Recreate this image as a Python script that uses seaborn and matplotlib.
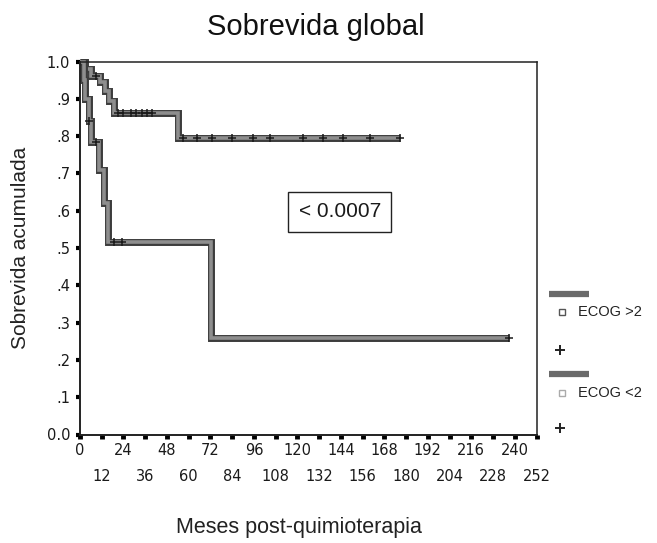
import numpy as np
import pandas as pd
import matplotlib
matplotlib.use("Agg")
import matplotlib.pyplot as plt
from matplotlib.lines import Line2D
import seaborn as sns

# ── Data ────────────────────────────────────────────────────────────────────
# Kaplan-Meier steps (months, cumulative survival); last point = end of follow-up
ecog_hi_times = [0, 2, 3, 5, 6, 10.5, 13.5, 15.5, 72.5, 237]
ecog_hi_surv = [1.0, 0.95, 0.90, 0.84, 0.785, 0.71, 0.62, 0.515, 0.258, 0.258]
ecog_hi_censored = [5, 9, 19, 23, 237]

ecog_lo_times = [0, 3, 6, 11, 14, 16, 18.5, 54, 176.5]
ecog_lo_surv = [1.0, 0.98, 0.96, 0.945, 0.92, 0.895, 0.862, 0.796, 0.796]
ecog_lo_censored = [9, 21, 24, 28, 31, 34, 37, 40, 57, 64.5, 73, 84,
                    95.5, 105, 123, 134, 145, 160, 176.5]

group_labels = ["ECOG >2", "ECOG <2"]
p_value_text = "< 0.0007"
p_value_pos = (143.4, 0.597)

x_major = list(range(0, 241, 24))
x_minor = list(range(12, 253, 24))
y_ticks = [0.0, 0.1, 0.2, 0.3, 0.4, 0.5, 0.6, 0.7, 0.8, 0.9, 1.0]
y_tick_labels = ["0.0", ".1", ".2", ".3", ".4", ".5", ".6", ".7", ".8", ".9", "1.0"]

BAND_DARK = "#3c3c3c"
BAND_GRAY = "#8e8e8e"


def step_value(times, surv, t):
    idx = np.searchsorted(times, t, side="right") - 1
    return surv[idx]


def draw_km(ax, times, surv, censored):
    df = pd.DataFrame({"t": times, "s": surv})
    for color, lw in [(BAND_DARK, 5.0), (BAND_GRAY, 2.6)]:
        sns.lineplot(data=df, x="t", y="s", ax=ax, estimator=None, sort=False,
                     drawstyle="steps-post", color=color, linewidth=lw,
                     solid_joinstyle="miter", solid_capstyle="butt",
                     clip_on=False)
    cens = pd.DataFrame({"t": censored,
                         "s": [step_value(times, surv, c) for c in censored]})
    sns.scatterplot(data=cens, x="t", y="s", ax=ax, marker="+", s=30,
                    color="#1a1a1a", linewidth=1.1, zorder=5, clip_on=False)


sns.set_style("white")
plt.rcParams["font.family"] = ["Liberation Sans", "DejaVu Sans"]

W, H = 657, 543
fig = plt.figure(figsize=(W / 100, H / 100), dpi=100)
ax = fig.add_axes([80 / W, 1 - 434.5 / H, (536.5 - 80) / W, (434.5 - 61.5) / H])

draw_km(ax, ecog_lo_times, ecog_lo_surv, ecog_lo_censored)
draw_km(ax, ecog_hi_times, ecog_hi_surv, ecog_hi_censored)

ax.set_xlim(0, 252)
ax.set_ylim(0, 1.0)
ax.set_xlabel("")
ax.set_ylabel("")

ax.set_xticks(x_major)
ax.set_xticklabels([str(v) for v in x_major])
ax.set_xticks(x_minor, minor=True)
ax.set_xticklabels([str(v) for v in x_minor], minor=True)
ax.set_yticks(y_ticks)
ax.set_yticklabels(y_tick_labels)

ax.tick_params(axis="both", which="both", labelfontfamily="DejaVu Sans",
               labelsize=10.5, labelcolor="#1a1a1a")
ax.tick_params(axis="x", which="both", direction="out", length=3, width=3.5,
               color="black", bottom=True)
ax.tick_params(axis="x", which="major", pad=3)
ax.tick_params(axis="x", which="minor", pad=22)
ax.tick_params(axis="y", which="major", direction="out", length=3, width=3,
               color="black", pad=4, left=True)

for side, sp in ax.spines.items():
    sp.set_visible(True)
    sp.set_color("#222222")
    sp.set_linewidth(1.4 if side in ("left", "bottom") else 1.1)

ax.text(*p_value_pos, p_value_text, ha="center", va="center", fontsize=15,
        color="#1a1a1a",
        bbox=dict(boxstyle="square,pad=0.5", fc="white", ec="#222222", lw=1.0))

# titles / axis labels
fig.text(316 / W, 1 - 27 / H, "Sobrevida global", ha="center", va="center",
         fontsize=21, color="#111111")
fig.text(299 / W, 1 - 528 / H, "Meses post-quimioterapia", ha="center",
         va="center", fontsize=15.5, color="#222222")
fig.text(21 / W, 1 - 248 / H, "Sobrevida acumulada", ha="center", va="center",
         rotation=90, fontsize=15, color="#222222")

# SPSS-style legend outside the plot
for label, bar_y, sq_y, plus_y, sq_edge in [
        (group_labels[0], 293.7, 312, 350, "#555555"),
        (group_labels[1], 374, 393, 428, "#aaaaaa")]:
    fig.add_artist(Line2D([549 / W, 589 / W], [1 - bar_y / H, 1 - bar_y / H],
                          transform=fig.transFigure, color="#6a6a6a", lw=4.5,
                          solid_capstyle="butt"))
    fig.add_artist(Line2D([561.7 / W], [1 - sq_y / H], transform=fig.transFigure,
                          marker="s", markersize=4.5, markerfacecolor="white",
                          markeredgecolor=sq_edge, markeredgewidth=1.0,
                          linestyle="none"))
    fig.text(578 / W, 1 - sq_y / H, label, ha="left", va="center",
             fontsize=10.5, color="#222222")
    fig.add_artist(Line2D([560 / W], [1 - plus_y / H], transform=fig.transFigure,
                          marker="+", markersize=7, markeredgecolor="#222222",
                          markeredgewidth=1.4, linestyle="none"))

fig.savefig("out.png", dpi=100, facecolor="white")
